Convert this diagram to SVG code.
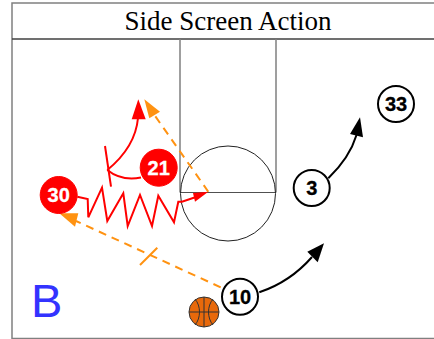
<svg xmlns="http://www.w3.org/2000/svg" width="434" height="339" viewBox="0 0 434 339">
<style>
.court{fill:none;stroke:#808080;stroke-width:1.5}
.lab{font-family:"Liberation Sans",Arial,sans-serif;font-weight:bold;text-anchor:middle;font-size:20px;stroke-width:.3px}
.red{fill:none;stroke:#f00;stroke-width:2}
.org{fill:none;stroke:#ff9211;stroke-width:2;stroke-dasharray:8 6}
.blk{fill:none;stroke:#000;stroke-width:2}
.w{fill:#fff;stroke:#000;stroke-width:2}
.r{fill:#f00;stroke:#f00;stroke-width:1}
</style>
<rect width="434" height="339" fill="#fff"/>
<g id="court">
<path class="court" d="M12 339V3H434M12 338.500H434"/>
<path d="M12 39H434" fill="none" stroke="#404040" stroke-width="1.500"/>
<path class="court" d="M180 39V192.500M276 39V192.500"/>
<path d="M180 192.500H276" fill="none" stroke="#505050" stroke-width="1"/>
<circle cx="228" cy="193.500" r="47.500" fill="none" stroke="#222" stroke-width="1"/>
<text x="228" y="30" font-family="'Liberation Serif','Times New Roman',serif" font-size="27" text-anchor="middle" fill="#000">Side Screen Action</text>
<text x="31" y="317" font-family="'Liberation Sans',Arial,sans-serif" font-size="47" fill="#3333ff">B</text>
</g>
<g id="connectors">
<path class="red" d="M77.300 196.700L87.700 199L88.300 217.300L102 187.700L107.300 221L123.300 193.300L127.700 226L140 195L152 226L158.300 195.700L174 222.300L178.300 201.700L182 201.700L196 197"/>
<polygon fill="#f00" points="208.300,191.700 195,201.700 193,193"/>
<path class="red" d="M141 177.500C128 180 116 177 107.300 170"/>
<path class="red" d="M105 146L111 186.700"/>
<path class="red" d="M107.300 170C122 158 136 140 138 118"/>
<polygon fill="#f00" points="138.300,99.300 131.700,119.300 145.700,119.300"/>
<path class="org" d="M208.300 191.700L153 113"/>
<polygon fill="#ff9211" points="144.300,99.300 149.300,118.300 160,111.700"/>
<path class="org" d="M220.700 287.300L76 221"/>
<polygon fill="#ff9211" points="59.300,213.300 75,226.700 78.300,213.300"/>
<path d="M140 265L157.300 247.700" fill="none" stroke="#ff9211" stroke-width="2"/>
<path class="blk" d="M259.300 292.300C281 285 298 273 312 257"/>
<polygon points="324,243.300 307.300,251.700 317.700,262.300"/>
<path class="blk" d="M328.300 178.300C342 165 352 150 356.500 135"/>
<polygon points="360,117.300 350,134 363,137.300"/>
</g>
<g id="n21"><circle class="r" cx="158.700" cy="167.700" r="18.500"/><text class="lab" x="158.700" y="174.800" fill="#fff" stroke="#fff">21</text></g>
<g id="n30"><circle class="r" cx="58.700" cy="195" r="18.500"/><text class="lab" x="58.700" y="201.500" fill="#fff" stroke="#fff">30</text></g>
<g id="ball">
<circle cx="204" cy="312" r="15" fill="#e8690b" stroke="#333" stroke-width="1"/>
<path d="M189 312H219M204 297V327M195 299C201 306 201 318 195 325M213 299C207 306 207 318 213 325" fill="none" stroke="#333" stroke-width="1"/>
</g>
<g id="n10"><circle class="w" cx="240" cy="296.700" r="18"/><text class="lab" x="240" y="303.500" fill="#000" stroke="#000">10</text></g>
<g id="n3"><circle class="w" cx="311.700" cy="188" r="18"/><text class="lab" x="311.700" y="195" fill="#000" stroke="#000">3</text></g>
<g id="n33"><circle class="w" cx="396" cy="104" r="18"/><text class="lab" x="396" y="111" fill="#000" stroke="#000">33</text></g>
</svg>
